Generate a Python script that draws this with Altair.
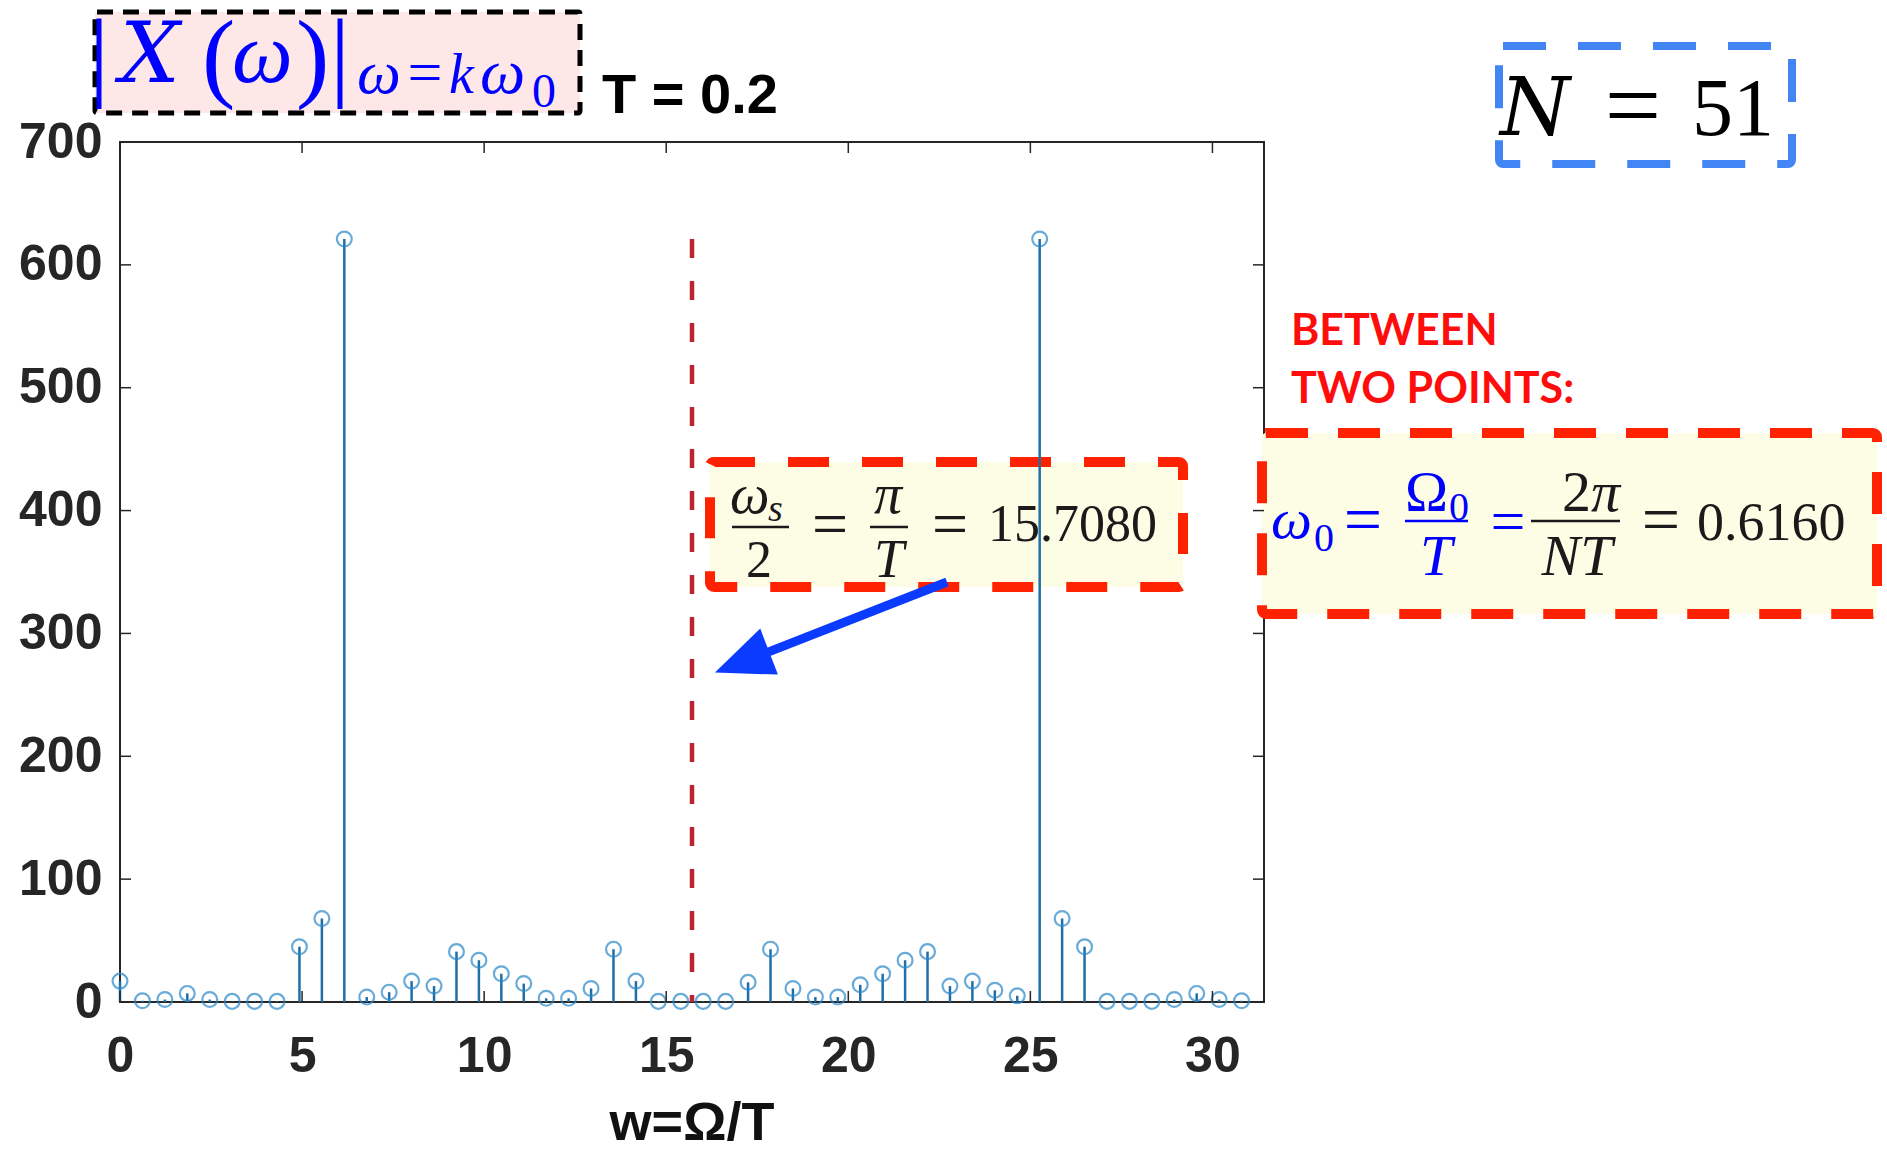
import altair as alt
import pandas as pd

# ---------------- data ----------------
T = 0.2
N = 51
W0 = 0.6160          # spacing between two points
WS2 = 15.7080        # omega_s / 2 = pi / T
XMAX = 31.416        # 2*pi/T
k = list(range(51))
mag = [17, 1, 2, 7, 2, 0.5, 0.5, 0.5, 45, 68, 621, 4, 8, 17, 13, 41, 34,
       23, 15, 3, 3, 11, 43, 17, 0.5, 0.5, 0.5, 0.5, 16, 43, 11, 4, 4, 14,
       23, 34, 41, 13, 17, 9.5, 5, 621, 68, 45, 0.5, 0.5, 0.5, 2, 7, 2, 1]
omega = [kk * W0 for kk in k]
XTICKS = [0, 5, 10, 15, 20, 25, 30]
YTICKS = [0, 100, 200, 300, 400, 500, 600, 700]
DASH_TOP = 621

# ---------------- layout ----------------
W, H = 1144, 860
OX, OY = 120, 142
AX = "#262626"
dummy = pd.DataFrame({"d": [0]})

XENC = alt.X("w:Q", scale=alt.Scale(domain=[0, XMAX], nice=False, zero=False),
             axis=alt.Axis(values=XTICKS, title=None, labelPadding=29))
YENC = alt.Y("mag:Q", scale=alt.Scale(domain=[0, 700], nice=False),
             axis=alt.Axis(values=YTICKS, title=None, labelPadding=18))


def text_layer(s, x, y, size, color, font="Liberation Serif", style="normal",
               weight="normal", align="left", baseline="alphabetic"):
    return alt.Chart(dummy).mark_text(
        text=s, font=font, fontSize=size, fontStyle=style, fontWeight=weight,
        color=color, align=align, baseline=baseline
    ).encode(x=alt.value(x - OX), y=alt.value(y - OY))


def box(x1, y1, x2, y2, fill, stroke, sw, dash, r=3):
    return alt.Chart(dummy).mark_rect(
        fill=fill, stroke=stroke, strokeWidth=sw, strokeDash=dash, cornerRadius=r
    ).encode(x=alt.value(x1 - OX), x2=alt.value(x2 - OX),
             y=alt.value(y1 - OY), y2=alt.value(y2 - OY))


def seg(x1, y1, x2, y2, color, sw):
    return alt.Chart(dummy).mark_rule(color=color, strokeWidth=sw, strokeCap="butt").encode(
        x=alt.value(x1 - OX), x2=alt.value(x2 - OX),
        y=alt.value(y1 - OY), y2=alt.value(y2 - OY))


df = pd.DataFrame({"w": omega, "mag": mag})
xt = pd.DataFrame({"w": XTICKS})
yt = pd.DataFrame({"mag": YTICKS})

layers = []
# annotation boxes (under the data)
layers.append(box(95, 12, 580, 113, "#fde7e7", "#000000", 5, [16, 10], 2))
layers.append(box(1499, 46, 1792, 164, "#ffffff", "#4285f4", 8, [43, 32], 4))
layers.append(box(710, 462, 1183, 587, "#fdfde6", "#ff2200", 10, [41, 33], 4))
layers.append(box(1262, 433, 1877, 614, "#fdfde6", "#ff2200", 10, [42, 30], 4))

# stems and markers
layers.append(alt.Chart(df).mark_rule(color="#1f6ea8", strokeWidth=2.5).encode(
    x=XENC, y=YENC, y2=alt.datum(0)))
layers.append(alt.Chart(df).mark_point(shape="circle", filled=False, size=220,
                                       strokeWidth=2.2, color="#2a88c8").encode(x=XENC, y=YENC))
# dashed half-sampling line
layers.append(alt.Chart(pd.DataFrame({"w": [WS2], "mag": [DASH_TOP]})).mark_rule(
    color="#bb2430", strokeWidth=4.5, strokeDash=[19, 23]).encode(x=XENC, y=YENC, y2=alt.datum(0)))

# inward ticks on all sides
layers.append(alt.Chart(yt).mark_rule(color=AX, strokeWidth=1.5).encode(
    y=YENC, x=alt.value(0), x2=alt.value(11)))
layers.append(alt.Chart(yt).mark_rule(color=AX, strokeWidth=1.5).encode(
    y=YENC, x=alt.value(W - 11), x2=alt.value(W)))
layers.append(alt.Chart(xt).mark_rule(color=AX, strokeWidth=1.5).encode(
    x=XENC, y=alt.value(H - 11), y2=alt.value(H)))
layers.append(alt.Chart(xt).mark_rule(color=AX, strokeWidth=1.5).encode(
    x=XENC, y=alt.value(0), y2=alt.value(11)))

# axis title and title
layers.append(text_layer("w=Ω/T", 692, 1140, 54, "#111111", font="Liberation Sans",
                         weight="bold", align="center"))
layers.append(text_layer("T = 0.2", 602, 113, 56, "#000000", font="Liberation Sans",
                         weight="bold"))

# |X(w)| label
BL = "#0000ff"
layers.append(text_layer("|", 99, 88, 100, BL, align="center"))
layers.append(text_layer("X", 120, 82, 84, BL, font="DejaVu Serif", style="italic"))
layers.append(text_layer("(", 202, 89, 100, BL))
layers.append(text_layer("ω", 232, 82, 86, BL, style="italic"))
layers.append(text_layer(")", 296, 89, 100, BL))
layers.append(text_layer("|", 340, 88, 100, BL, align="center"))
layers.append(text_layer("ω", 357, 93, 62, BL, style="italic"))
layers.append(text_layer("=", 425, 93, 62, BL, align="center"))
layers.append(text_layer("k", 449, 93, 56, BL, style="italic"))
layers.append(text_layer("ω", 480, 93, 64, BL, style="italic"))
layers.append(text_layer("0", 532, 107, 48, BL))

# N = 51
layers.append(text_layer("N", 1500, 135, 80, "#000000", font="DejaVu Serif", style="italic"))
layers.append(text_layer("=", 1633, 139, 100, "#000000", align="center"))
layers.append(text_layer("51", 1692, 135, 82, "#000000"))

# BETWEEN TWO POINTS:
RD = "#ff0d0d"
layers.append(text_layer("BETWEEN", 1291, 345, 43, RD, font="Lato", weight="bold"))
layers.append(text_layer("TWO POINTS:", 1291, 403, 43, RD, font="Lato", weight="bold"))

# omega_s/2 = pi/T = 15.7080
K = "#1a1a1a"
layers.append(text_layer("ω", 730, 513, 56, K, style="italic"))
layers.append(text_layer("s", 768, 521, 38, K, style="italic"))
layers.append(seg(732, 527, 789, 527, K, 2.5))
layers.append(text_layer("2", 759, 577, 52, K, align="center"))
layers.append(text_layer("=", 830, 545, 64, K, align="center"))
layers.append(text_layer("π", 888, 513, 56, K, style="italic", align="center"))
layers.append(seg(870, 527, 908, 527, K, 2.5))
layers.append(text_layer("T", 889, 577, 54, K, style="italic", align="center"))
layers.append(text_layer("=", 950, 545, 64, K, align="center"))
layers.append(text_layer("15.7080", 988, 541, 52, K))

# omega_0 = Omega_0/T = 2pi/NT = 0.6160
layers.append(text_layer("ω", 1271, 538, 58, BL, style="italic"))
layers.append(text_layer("0", 1314, 551, 40, BL))
layers.append(text_layer("=", 1363, 542, 68, BL, align="center"))
layers.append(text_layer("Ω", 1405, 511, 58, BL))
layers.append(text_layer("0", 1449, 520, 40, BL))
layers.append(seg(1405, 521, 1468, 521, BL, 2.5))
layers.append(text_layer("T", 1436, 575, 58, BL, style="italic", align="center"))
layers.append(text_layer("=", 1508, 542, 62, BL, align="center"))
layers.append(text_layer("2", 1562, 511, 58, K))
layers.append(text_layer("π", 1591, 511, 58, K, style="italic"))
layers.append(seg(1531, 521, 1620, 521, K, 2.5))
layers.append(text_layer("NT", 1577, 575, 58, K, style="italic", align="center"))
layers.append(text_layer("=", 1661, 542, 68, K, align="center"))
layers.append(text_layer("0.6160", 1697, 540, 54, K))

# blue arrow
AR = "#0b3bff"
layers.append(seg(947, 582, 748, 660, AR, 9))
layers.append(alt.Chart(dummy).mark_point(
    shape="M0,-1 L-0.85,1 L0.85,1 Z", filled=True, size=3364, angle=249,
    color=AR, opacity=1, strokeWidth=0).encode(x=alt.value(742 - OX), y=alt.value(662 - OY)))

chart = alt.layer(*layers).properties(
    width=W, height=H,
    autosize=alt.AutoSizeParams(type="none"),
    padding={"left": OX, "top": OY, "right": 1887 - OX - W, "bottom": 1151 - OY - H},
    background="white",
).configure_view(stroke=AX, strokeWidth=2).configure_axis(
    labelFont="Liberation Sans", labelFontWeight="bold", labelFontSize=50,
    labelColor=AX, ticks=False, tickSize=0, domain=False, grid=False,
    labelFlush=False, labelOverlap=False,
)

chart.save("out.html", embed_options={"renderer": "svg", "actions": False})
